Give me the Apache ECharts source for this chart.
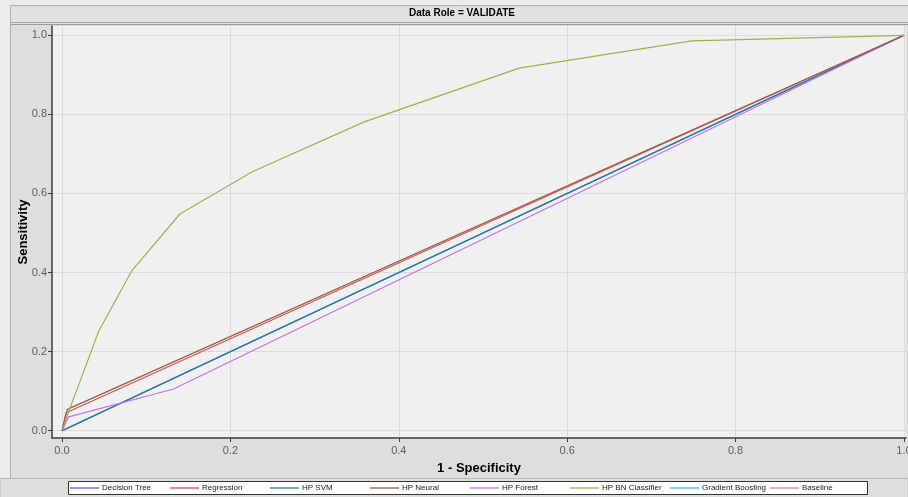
<!DOCTYPE html>
<html>
<head>
<meta charset="utf-8">
<script src="https://cdn.jsdelivr.net/npm/echarts@6/dist/echarts.min.js"></script>
<style>
html,body{margin:0;padding:0;background:#ececec;}
#chart{width:908px;height:497px;}
</style>
</head>
<body>
<div id="chart"></div>
<script>
// ---- data ----
const seriesNames = ['Decision Tree','Regression','HP SVM','HP Neural','HP Forest','HP BN Classifier','Gradient Boosting','Baseline'];
const tickValues = [0, 0.2, 0.4, 0.6, 0.8, 1.0];

const decisionTreeX = [0, 1];
const decisionTreeY = [0, 1];
const regressionX = [0, 0.0048, 1];
const regressionY = [0, 0.0455, 1];
const svmX = [0, 1];
const svmY = [0, 1];
const neuralX = [0, 0.0063, 1];
const neuralY = [0, 0.054, 1];
const forestX = [0, 0.0079, 0.1325, 1];
const forestY = [0, 0.035, 0.1055, 1];
const bnX = [0, 0.0095, 0.0433, 0.083, 0.140, 0.226, 0.359, 0.543, 0.748, 1];
const bnY = [0, 0.057, 0.250, 0.405, 0.548, 0.655, 0.781, 0.917, 0.986, 1];
const gbX = [0, 1];
const gbY = [0, 1];
const baselineX = [0, 1];
const baselineY = [0, 1];

const colors = {
  'Decision Tree': '#5c5cf0',
  'Regression': '#dc4c5c',
  'HP SVM': '#24848c',
  'HP Neural': '#8e6040',
  'HP Forest': '#c070f0',
  'HP BN Classifier': '#a4ac50',
  'Gradient Boosting': '#50b0f8',
  'Baseline': '#d484a4'
};

function pairs(xs, ys){ return xs.map((x,i)=>[x, ys[i]]); }

const seriesData = {
  'Decision Tree': pairs(decisionTreeX, decisionTreeY),
  'Regression': pairs(regressionX, regressionY),
  'HP SVM': pairs(svmX, svmY),
  'HP Neural': pairs(neuralX, neuralY),
  'HP Forest': pairs(forestX, forestY),
  'HP BN Classifier': pairs(bnX, bnY),
  'Gradient Boosting': pairs(gbX, gbY),
  'Baseline': pairs(baselineX, baselineY)
};
const zOrder = {'Baseline':1,'Gradient Boosting':2,'Decision Tree':3,'HP SVM':4,'HP Forest':5,'Regression':6,'HP Neural':7,'HP BN Classifier':8};

const chart = echarts.init(document.getElementById('chart'), null, {renderer:'canvas'});
const font = "'Liberation Sans', Arial, sans-serif";

const legends = seriesNames.map((name, i) => ({
  data: [name],
  left: 70 + i * 100, top: 482,
  orient: 'horizontal',
  padding: 0,
  icon: 'rect',
  itemWidth: 29,
  itemHeight: 1.3,
  itemGap: 0,
  selectedMode: false,
  z: 20,
  textStyle: {fontSize: 8, color: '#222', fontFamily: font, lineHeight: 12, padding: [0,0,0,-2]}
}));

const option = {
  animation: false,
  backgroundColor: '#ececec',
  textStyle: {fontFamily: font},
  graphic: [
    {type:'rect', z:-10, silent:true, shape:{x:10.5, y:5.5, width:910, height:473}, style:{fill:'#dedede', stroke:'#b0b0b0', lineWidth:1}},
    {type:'rect', z:-10, silent:true, shape:{x:0, y:478.5, width:908, height:20}, style:{fill:'#dedede', stroke:'#b8b8b8', lineWidth:1}},
    {type:'rect', z:-9, silent:true, shape:{x:11, y:8, width:900, height:14}, style:{fill:'#e2e2e2', stroke:null}},
    {type:'line', z:-8, silent:true, shape:{x1:11, y1:22.5, x2:908, y2:22.5}, style:{stroke:'#a6a6a6', lineWidth:1}},
    {type:'line', z:-8, silent:true, shape:{x1:11, y1:24.5, x2:908, y2:24.5}, style:{stroke:'#9a9a9a', lineWidth:1}},
    {type:'rect', z:-5, silent:true, shape:{x:68.5, y:481.5, width:799, height:13}, style:{fill:'#ffffff', stroke:'#333333', lineWidth:1}}
  ],
  title: {
    text: 'Data Role = VALIDATE',
    left: 409, top: 8,
    padding: 0,
    textStyle: {fontSize: 10, fontWeight: 'bold', color: '#000', fontFamily: font}
  },
  legend: legends,
  grid: {
    left: 52, right: 2, top: 26, bottom: 59,
    outerBoundsMode: 'none',
    containLabel: false,
    show: true, backgroundColor: '#f0f0f0', borderWidth: 0
  },
  xAxis: {
    type: 'value',
    min: -0.0119, max: 1.0024,
    name: '1 - Specificity',
    nameLocation: 'middle',
    nameGap: 24,
    nameMoveOverlap: false,
    nameTextStyle: {fontSize: 13, fontWeight: 'bold', color: '#000', fontFamily: font},
    axisLine: {show: true, onZero: false, lineStyle: {color: '#3c3c3c', width: 1.5}},
    axisTick: {show: true, customValues: tickValues, length: 4, lineStyle: {color: '#3c3c3c'}},
    axisLabel: {customValues: tickValues, color: '#606060', fontSize: 11, margin: 7, fontFamily: font,
      formatter: v => v.toFixed(1)},
    splitLine: {show: true, lineStyle: {color: '#dcdcdc', width: 1}}
  },
  yAxis: {
    type: 'value',
    min: -0.0185, max: 1.0235,
    name: 'Sensitivity',
    nameLocation: 'middle',
    nameGap: 22,
    nameRotate: 90,
    nameMoveOverlap: false,
    nameTextStyle: {fontSize: 13, fontWeight: 'bold', color: '#000', fontFamily: font},
    axisLine: {show: true, onZero: false, lineStyle: {color: '#3c3c3c', width: 1.5}},
    axisTick: {show: true, customValues: tickValues, length: 4, lineStyle: {color: '#3c3c3c'}},
    axisLabel: {customValues: tickValues, color: '#606060', fontSize: 11, margin: 5, fontFamily: font,
      formatter: v => v.toFixed(1)},
    splitLine: {show: true, lineStyle: {color: '#dcdcdc', width: 1}}
  },
  series: seriesNames.map(name => ({
    name: name,
    type: 'line',
    data: seriesData[name],
    symbol: 'none',
    z: 2 + zOrder[name] / 10,
    color: colors[name],
    lineStyle: {width: 1.2, color: colors[name]},
    clip: true
  }))
};
chart.setOption(option);
</script>
</body>
</html>
